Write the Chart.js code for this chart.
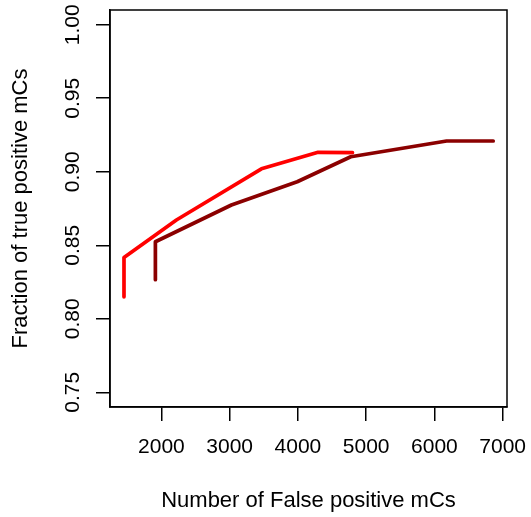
<!DOCTYPE html>
<html>
<head>
<meta charset="utf-8">
<script src="https://cdn.jsdelivr.net/npm/chart.js@4/dist/chart.umd.min.js"></script>
<style>
  html, body { margin: 0; padding: 0; background: #ffffff; }
  #wrap { width: 531px; height: 517px; }
</style>
</head>
<body>
<div id="wrap"><canvas id="c" width="531" height="517"></canvas></div>
<script>
// Data
const redFP  = [1452, 1452, 2220, 3466, 4296, 4800];
const redTP  = [0.8149, 0.8417, 0.8672, 0.9020, 0.9132, 0.9130];
const darkFP = [1912, 1912, 3026, 3990, 4775, 6179, 6862];
const darkTP = [0.8266, 0.8524, 0.8774, 0.8932, 0.9102, 0.9209, 0.9209];
const xTicks = [2000, 3000, 4000, 5000, 6000, 7000];
const yTicks = [0.75, 0.80, 0.85, 0.90, 0.95, 1.00];
const xTitle = 'Number of False positive mCs';
const yTitle = 'Fraction of true positive mCs';

const FAMILY = '"Liberation Sans", Helvetica, Arial, sans-serif';
const TICK_FONT = { family: FAMILY, size: 21 };
const TITLE_FONT = { family: FAMILY, size: 22 };

const toPts = (xs, ys) => xs.map((x, i) => ({ x: x, y: ys[i] }));

const boxPlugin = {
  id: 'box',
  afterDraw(chart) {
    const a = chart.chartArea, ctx = chart.ctx;
    ctx.save();
    ctx.strokeStyle = '#000';
    ctx.lineWidth = 1.5;
    ctx.strokeRect(a.left, a.top, a.right - a.left, a.bottom - a.top);
    ctx.restore();
  }
};

new Chart(document.getElementById('c'), {
  type: 'line',
  data: {
    datasets: [
      { data: toPts(redFP, redTP), borderColor: '#FF0000', borderWidth: 3.7,
        pointRadius: 0, tension: 0, borderCapStyle: 'round', borderJoinStyle: 'round', fill: false },
      { data: toPts(darkFP, darkTP), borderColor: '#8B0000', borderWidth: 3.7,
        pointRadius: 0, tension: 0, borderCapStyle: 'round', borderJoinStyle: 'round', fill: false }
    ]
  },
  options: {
    responsive: false,
    animation: false,
    devicePixelRatio: 1,
    layout: { padding: { top: 10, right: 24, left: 0, bottom: 0 } },
    plugins: { legend: { display: false }, tooltip: { enabled: false } },
    scales: {
      x: {
        type: 'linear', min: 1247, max: 7064,
        afterBuildTicks: s => { s.ticks = xTicks.map(v => ({ value: v })); },
        afterFit: s => { s.height = 110; s.paddingLeft = 0; s.paddingRight = 0; },
        grid: { display: true, drawOnChartArea: false, drawTicks: true, tickLength: 14, tickColor: '#000', lineWidth: 1.5 },
        border: { display: true, color: '#000', width: 1.5 },
        ticks: { color: '#000', font: TICK_FONT, padding: 13.5, maxRotation: 0, autoSkip: false,
                 callback: v => String(v) },
        title: { display: true, text: xTitle, color: '#000', font: TITLE_FONT, padding: { top: 0, bottom: 2.5 } }
      },
      y: {
        type: 'linear', min: 0.74, max: 1.01,
        afterBuildTicks: s => { s.ticks = yTicks.map(v => ({ value: v })); },
        afterFit: s => { s.width = 110; s.paddingTop = 0; s.paddingBottom = 0; },
        grid: { display: true, drawOnChartArea: false, drawTicks: true, tickLength: 14, tickColor: '#000', lineWidth: 1.5 },
        border: { display: true, color: '#000', width: 1.5 },
        ticks: { color: '#000', font: TICK_FONT, padding: 2.5, minRotation: 90, maxRotation: 90,
                 crossAlign: 'center', autoSkip: false, callback: v => Number(v).toFixed(2) },
        title: { display: true, text: yTitle, color: '#000', font: TITLE_FONT, padding: { top: 8, bottom: 0 } }
      }
    }
  },
  plugins: [boxPlugin]
});
</script>
</body>
</html>
